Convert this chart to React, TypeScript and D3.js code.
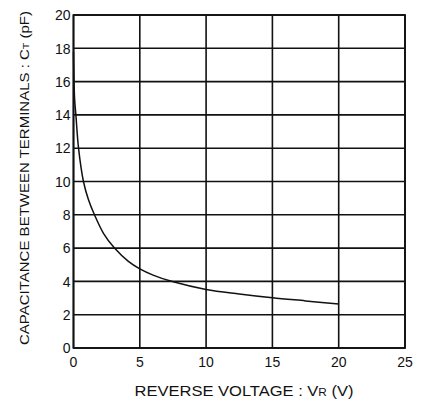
import React from "react";
import * as d3 from "d3";

const voltage = [0, 0.08, 0.18, 0.38, 0.75, 1.13, 1.58, 2.26, 3.09, 4.14, 5, 6, 7.45, 10, 12.5, 15, 17.5, 20];
const capacitance = [17.8, 15.0, 14, 12, 10, 8.9, 8, 6.89, 6, 5.2, 4.75, 4.38, 3.99, 3.52, 3.25, 3.02, 2.83, 2.64];
const xTicks = [0, 5, 10, 15, 20, 25];
const yTicks = [0, 2, 4, 6, 8, 10, 12, 14, 16, 18, 20];

const W = 427, H = 407;
const L = 73.5, R = 405, T = 15, B = 348;

export default function App() {
  const x = d3.scaleLinear().domain([0, 25]).range([L, R]);
  const y = d3.scaleLinear().domain([0, 20]).range([B, T]);
  const pts = voltage.map((v, i) => [v, capacitance[i]] as [number, number]);
  const line = d3.line<[number, number]>().x(d => x(d[0])).y(d => y(d[1])).curve(d3.curveCatmullRom.alpha(0.5));
  const font = "'Liberation Sans', Arial, sans-serif";
  return (
    <svg width={W} height={H} style={{ position: "absolute", left: 0, top: 0, background: "#fff" }} fontFamily={font}>
      <rect x={0} y={0} width={W} height={H} fill="#fff" />
      {xTicks.map(t => (
        <line key={"gx" + t} x1={x(t)} x2={x(t)} y1={T} y2={B} stroke="#111" strokeWidth={1.6} />
      ))}
      {yTicks.map(t => (
        <line key={"gy" + t} x1={L} x2={R} y1={y(t)} y2={y(t)} stroke="#111" strokeWidth={1.6} />
      ))}
      <rect x={L} y={T} width={R - L} height={B - T} fill="none" stroke="#111" strokeWidth={1.8} />
      <path d={line(pts) || ""} fill="none" stroke="#111" strokeWidth={1.5} />
      {yTicks.map(t => (
        <text key={"ly" + t} x={L - 3} y={y(t) + 1.5} textAnchor="end" dominantBaseline="middle" fontSize={14} fill="#111">
          {t}
        </text>
      ))}
      {xTicks.map(t => (
        <text key={"lx" + t} x={x(t)} y={363} textAnchor="middle" dominantBaseline="middle" fontSize={14} fill="#111">
          {t}
        </text>
      ))}
      <text x={244} y={396} textAnchor="middle" fontSize={14} fill="#111" textLength={219} lengthAdjust="spacingAndGlyphs">
        REVERSE VOLTAGE : V<tspan fontSize={10}>R</tspan> (V)
      </text>
      <text
        transform={`translate(28.5,${178}) rotate(-90)`}
        textAnchor="middle"
        fontSize={13.5}
        fill="#111"
        textLength={334}
        lengthAdjust="spacingAndGlyphs"
      >
        CAPACITANCE BETWEEN TERMINALS : C<tspan fontSize={9.5}>T</tspan> (pF)
      </text>
    </svg>
  );
}
